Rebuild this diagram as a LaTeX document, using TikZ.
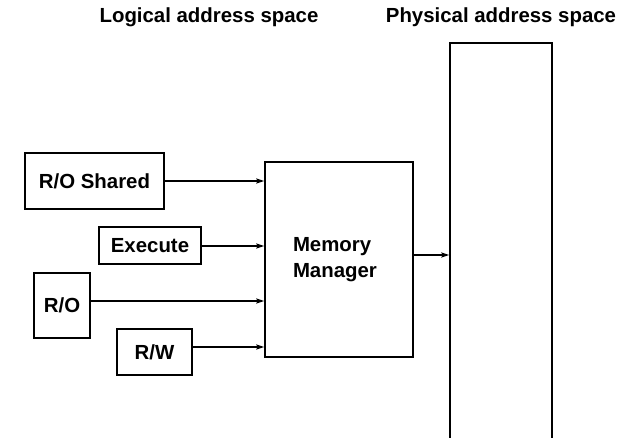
\documentclass[tikz,border=0pt]{standalone}
\usepackage{fontspec}
\setmainfont{Liberation Sans}
\usetikzlibrary{arrows.meta}

\tikzset{
  box/.style={draw, line width=1.4pt, inner sep=0pt, font=\bfseries\fontsize{20.4}{26}\selectfont},
  title/.style={inner sep=0pt, font=\bfseries\fontsize{20.4}{26}\selectfont},
  arr/.style={line width=1.5pt, -{Stealth[length=8pt,width=5pt,inset=1.5pt]}}
}

\begin{document}
\begin{tikzpicture}[x=1pt,y=-1pt]
  \useasboundingbox (0,0) rectangle (628,438);

  % column headings
  \node[title] (logical) at (209,17) {Logical address space};
  \node[title] (physical) at (501,17) {Physical address space};

  % segments of the logical space
  \node[box, minimum width=139pt, minimum height=56pt] (shared) at (94.5,181) {R/O Shared};
  \node[box, minimum width=102pt, minimum height=37pt] (exec) at (150,245.5) {Execute};
  \node[box, minimum width=56pt, minimum height=65pt] (ro) at (62,305.5) {R/O};
  \node[box, minimum width=75pt, minimum height=46pt] (rw) at (154.5,352) {R/W};

  % memory manager, label set a little left of centre
  \node[box, minimum width=148pt, minimum height=195pt, align=left,
        text width=84pt, inner xsep=0pt] (mm) at (339,259.5) {\hspace*{-4pt}Memory\\\hspace*{-4pt}Manager};

  % physical memory, running off the bottom edge
  \node[box, minimum width=102pt, minimum height=420pt] (phys) at (501,253) {};

  % connectors
  \draw[arr] (shared.east) -- (shared.east -| mm.west);
  \draw[arr] ([yshift=-0.5pt]exec.east) -- ([yshift=-0.5pt]exec.east -| mm.west);
  \draw[arr] ([yshift=4.5pt]ro.east) -- ([yshift=4.5pt]ro.east -| mm.west);
  \draw[arr] ([yshift=5pt]rw.east) -- ([yshift=5pt]rw.east -| mm.west);
  \draw[arr] ([yshift=4.5pt]mm.east) -- ([yshift=4.5pt]mm.east -| phys.west);
\end{tikzpicture}
\end{document}
